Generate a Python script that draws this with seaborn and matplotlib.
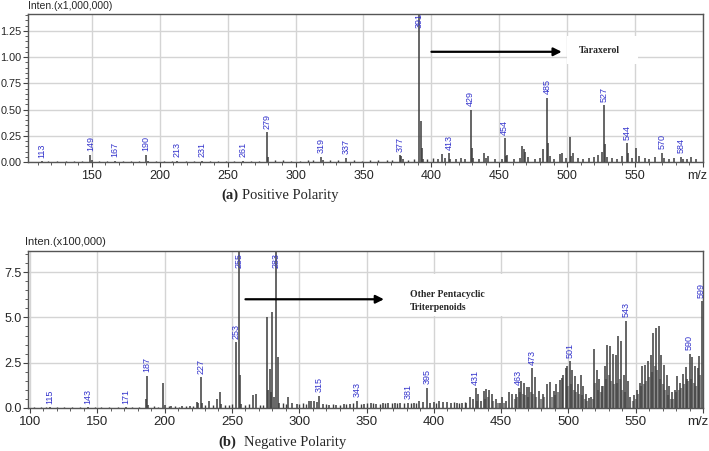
import matplotlib
matplotlib.use("Agg")
from matplotlib import pyplot as plt
from matplotlib.ticker import MultipleLocator, AutoMinorLocator, FuncFormatter
from matplotlib.patches import Rectangle
import seaborn as sns

sns.set_style("whitegrid")
plt.rcParams["font.family"] = ["Liberation Sans", "DejaVu Sans"]

# ---- positive polarity (x1,000,000) ----
pos_mz = [113, 149, 150, 167, 190, 191, 213, 231, 261, 279, 280, 319, 320, 337,
          377, 378, 379, 391, 392, 393, 394, 405, 408, 410, 413, 414, 418, 422,
          425, 429, 430, 431, 435, 439, 440, 442, 447, 452, 454, 455, 456, 461,
          465, 467, 468, 469, 471, 476, 480, 482, 485, 486, 487, 490, 495, 496,
          499, 502, 503, 504, 508, 512, 516, 520, 523, 526, 527, 528, 529, 533,
          537, 540, 544, 545, 548, 551, 553, 557, 560, 565, 570, 571, 575, 579,
          584, 585, 588, 591, 595]
pos_int = [0.008, 0.068, 0.015, 0.010, 0.068, 0.012, 0.010, 0.010, 0.012, 0.286,
           0.050, 0.050, 0.015, 0.040, 0.065, 0.060, 0.030, 1.450, 0.390, 0.130,
           0.030, 0.030, 0.076, 0.040, 0.085, 0.030, 0.025, 0.040, 0.030, 0.500,
           0.130, 0.040, 0.030, 0.090, 0.040, 0.060, 0.030, 0.030, 0.226, 0.060,
           0.070, 0.030, 0.040, 0.150, 0.120, 0.100, 0.050, 0.030, 0.040, 0.120,
           0.610, 0.180, 0.060, 0.030, 0.080, 0.090, 0.040, 0.240, 0.060, 0.090,
           0.040, 0.030, 0.040, 0.050, 0.070, 0.100, 0.540, 0.170, 0.050, 0.040,
           0.030, 0.060, 0.180, 0.090, 0.040, 0.130, 0.060, 0.040, 0.030, 0.050,
           0.090, 0.040, 0.030, 0.040, 0.050, 0.030, 0.030, 0.050, 0.030]
pos_noise_mz = [118, 124, 131, 137, 143, 155, 161, 173, 179, 185, 197, 203, 209,
                219, 225, 237, 243, 249, 255, 267, 273, 285, 291, 297, 303, 309,
                313, 325, 331, 343, 349, 355, 361, 367, 371, 383, 387, 397, 401]
pos_noise_int = [0.006, 0.008, 0.005, 0.007, 0.009, 0.010, 0.006, 0.008, 0.007,
                 0.011, 0.009, 0.006, 0.008, 0.010, 0.012, 0.009, 0.011, 0.008,
                 0.013, 0.012, 0.010, 0.015, 0.018, 0.012, 0.014, 0.016, 0.020,
                 0.015, 0.018, 0.017, 0.014, 0.016, 0.019, 0.015, 0.021, 0.020,
                 0.025, 0.030, 0.035]
pos_labels = [113, 149, 167, 190, 213, 231, 261, 279, 319, 337, 377, 391, 413,
              429, 454, 485, 527, 544, 570, 584]

# ---- negative polarity (x100,000) ----
neg_mz = [115, 143, 171, 186, 187, 188, 199, 200, 205, 213, 219, 224, 225, 227,
          228, 233, 239, 241, 242, 253, 255, 256, 257, 266, 268, 276, 277, 278,
          279, 280, 281, 283, 284, 285, 292, 295, 298, 307, 309, 311, 313, 315,
          318, 322, 327, 333, 338, 343, 348, 353, 357, 362, 366, 371, 375, 381,
          385, 389, 392, 395, 397, 400, 404, 407, 410, 413, 417, 421, 424, 427,
          429, 431, 433, 435, 437, 439, 441, 443, 446, 449, 451, 454, 456, 458,
          461, 463, 465, 467, 469, 471, 473, 475, 478, 481, 484, 486, 489, 491,
          494, 495, 496, 498, 499, 501, 503, 505, 507, 509, 511, 513, 515, 517,
          519, 521, 523, 525, 527, 529, 531, 533, 535, 537, 539, 541, 543, 544,
          546, 549, 551, 553, 555, 557, 559, 561, 563, 565, 567, 569, 571, 573,
          575, 577, 579, 581, 583, 585, 587, 588, 590, 592, 594, 596, 597, 599]
neg_int = [0.05, 0.05, 0.05, 0.50, 1.78, 0.15, 1.40, 0.15, 0.10, 0.12, 0.12, 0.35,
           0.30, 1.71, 0.30, 0.40, 0.50, 0.90, 0.20, 3.64, 9.00, 1.82, 0.20, 0.72,
           0.80, 5.04, 1.00, 2.13, 0.90, 5.31, 0.60, 9.00, 2.83, 0.30, 0.60, 0.30,
           0.20, 0.40, 0.40, 0.40, 0.35, 0.68, 0.20, 0.15, 0.15, 0.20, 0.20, 0.40,
           0.20, 0.30, 0.20, 0.25, 0.30, 0.30, 0.25, 0.30, 0.25, 0.40, 0.35, 1.12,
           0.30, 0.35, 0.40, 0.35, 0.35, 0.30, 0.25, 0.30, 0.30, 0.60, 0.50, 1.08,
           0.80, 0.40, 0.95, 1.05, 1.00, 0.75, 0.50, 0.30, 0.60, 0.40, 0.90, 0.75,
           0.80, 1.10, 1.50, 1.40, 1.15, 1.15, 2.19, 1.70, 0.95, 0.80, 1.30, 1.45,
           0.95, 1.30, 1.55, 1.66, 1.84, 2.20, 2.32, 2.59, 2.10, 1.76, 1.30, 1.84,
           1.20, 0.80, 0.55, 0.60, 3.25, 2.10, 1.60, 1.20, 2.30, 3.50, 3.40, 3.00,
           2.90, 4.00, 3.70, 1.80, 4.82, 1.50, 0.60, 0.70, 1.00, 1.40, 2.30, 2.35,
           2.60, 2.90, 4.15, 4.40, 4.50, 2.95, 2.35, 1.80, 1.20, 0.90, 1.00, 1.75,
           1.40, 1.90, 2.25, 1.60, 3.00, 2.80, 2.30, 2.20, 2.85, 5.90]
neg_minor_mz = [432, 438, 440, 444, 448, 452, 460, 462, 464, 466, 468, 470, 472,
                474, 476, 480, 482, 488, 490, 492, 500, 502, 504, 506, 508, 510,
                512, 514, 518, 520, 522, 524, 526, 528, 530, 532, 534, 536, 538,
                540, 542, 548, 550, 552, 554, 556, 558, 560, 562, 564, 566, 568,
                570, 572, 574, 576, 578, 580, 582, 584, 586, 589, 591, 593, 595,
                598]
neg_minor_int = [0.4, 0.5, 0.6, 0.4, 0.3, 0.3, 0.5, 0.6, 0.9, 0.8, 0.7, 0.6, 0.9,
                 0.8, 0.6, 0.5, 0.6, 0.6, 0.7, 0.9, 1.2, 1.3, 1.0, 0.9, 0.8, 0.7,
                 0.5, 0.4, 0.5, 1.4, 1.0, 0.9, 1.2, 1.6, 1.8, 1.5, 1.3, 1.4, 1.6,
                 1.0, 0.9, 0.4, 0.5, 0.8, 1.2, 1.3, 1.5, 1.7, 2.0, 2.3, 2.1, 1.6,
                 1.3, 1.0, 0.7, 0.5, 0.5, 0.9, 1.0, 1.1, 1.3, 1.5, 1.6, 1.4, 1.2,
                 1.8]
neg_noise_mz = [103, 108, 112, 120, 125, 131, 137, 148, 153, 159, 165, 176, 181,
                192, 195, 203, 208, 211, 216, 221, 230, 236, 245, 248, 250, 260,
                263, 271, 273, 288, 290, 300, 303, 305, 320, 325, 330, 335, 340,
                346, 350, 355, 360, 364, 369, 373, 378, 383, 387, 402, 415, 419, 423]
neg_noise_int = [0.03, 0.04, 0.03, 0.05, 0.04, 0.05, 0.04, 0.06, 0.05, 0.06, 0.05,
                 0.06, 0.07, 0.12, 0.08, 0.10, 0.09, 0.08, 0.10, 0.12, 0.15, 0.14,
                 0.15, 0.18, 0.20, 0.15, 0.20, 0.18, 0.15, 0.25, 0.20, 0.22, 0.25,
                 0.20, 0.20, 0.22, 0.18, 0.20, 0.25, 0.22, 0.30, 0.25, 0.22, 0.28,
                 0.25, 0.30, 0.28, 0.25, 0.30, 0.30, 0.32, 0.30, 0.35]
neg_labels = [115, 143, 171, 187, 227, 253, 255, 283, 315, 343, 381, 395, 431,
              463, 473, 501, 543, 590, 599]

LINE = "#3c3c3c"
MINOR = "#8c8c8c"
BLUE = "#3333cc"


def style_axes(ax, xlim, ylim, ymajor, yfmt, size, ysize):
    ax.set_xlim(*xlim)
    ax.set_ylim(*ylim)
    ax.xaxis.set_major_locator(MultipleLocator(50))
    ax.xaxis.set_minor_locator(MultipleLocator(10))
    ax.yaxis.set_major_locator(MultipleLocator(ymajor))
    ax.yaxis.set_minor_locator(AutoMinorLocator(5))
    ax.xaxis.set_major_formatter(FuncFormatter(lambda v, p: "" if v >= 600 else f"{v:.0f}"))
    ax.yaxis.set_major_formatter(FuncFormatter(lambda v, p: yfmt.format(v)))
    ax.grid(True, which="major", color="#d4d4d4", lw=1)
    ax.set_axisbelow(True)
    ax.tick_params(which="both", direction="out", color="#444444", bottom=True, left=True)
    ax.tick_params(axis="x", labelsize=size, pad=2)
    ax.tick_params(axis="y", labelsize=ysize, pad=1)
    ax.tick_params(which="major", length=3.5, width=0.8)
    ax.tick_params(which="minor", length=2.2, width=0.6)
    for s in ax.spines.values():
        s.set_color("#555555")
        s.set_linewidth(1)
    ax.annotate("m/z", xy=(1, 0), xycoords="axes fraction", xytext=(-4, -5.5),
                textcoords="offset points", ha="center", va="top", fontsize=size)


def peak_labels(ax, mz, inten, labels, cap):
    h = dict(zip(mz, inten))
    for m in labels:
        ax.annotate(str(m), xy=(m, min(h[m], cap)), xytext=(0, 2.5),
                    textcoords="offset points", rotation=90, ha="center", va="bottom",
                    fontsize=6.5, color=BLUE)


fig = plt.figure(figsize=(7.09, 4.51), dpi=100)

# top panel
ax1 = fig.add_axes([28 / 709, 1 - 162 / 451, 675 / 709, 148 / 451])
style_axes(ax1, (103, 600), (0, 1.41), 0.25, "{:.2f}", 9, 7.8)
ax1.vlines(pos_noise_mz, 0, pos_noise_int, color=LINE, lw=1)
ax1.vlines(pos_mz, 0, pos_int, color=LINE, lw=1.1)
peak_labels(ax1, pos_mz, pos_int, pos_labels, 1.24)
ax1.add_patch(Rectangle((500, 0.93), 52, 0.27, facecolor="white", edgecolor="none", zorder=0.8))
ax1.annotate("", xy=(498, 1.05), xytext=(398, 1.05),
             arrowprops=dict(arrowstyle="-|>", color="black", lw=1.6, mutation_scale=12))
ax1.text(524, 1.06, "Taraxerol", fontsize=7, fontweight="bold", ha="center", va="center",
         family="Liberation Serif")
fig.text(28 / 709, 1 - 9 / 451, "Inten.(x1,000,000)", fontsize=7.5, ha="left", va="baseline")

# bottom panel
ax2 = fig.add_axes([28 / 709, 1 - 408 / 451, 675 / 709, 157.3 / 451])
style_axes(ax2, (98.5, 600), (0, 8.68), 2.5, "{:.1f}", 9.5, 9)
ax2.vlines(neg_noise_mz, 0, neg_noise_int, color=LINE, lw=1)
ax2.vlines(neg_minor_mz, 0, neg_minor_int, color=MINOR, lw=1.6)
ax2.vlines(neg_mz, 0, neg_int, color=LINE, lw=1.1)
peak_labels(ax2, neg_mz, neg_int, neg_labels, 7.55)
ax2.add_patch(Rectangle((373, 5.08), 101, 2.32, facecolor="white", edgecolor="none", zorder=0.8))
ax2.annotate("", xy=(365, 6.0), xytext=(258, 6.0),
             arrowprops=dict(arrowstyle="-|>", color="black", lw=1.6, mutation_scale=12))
ax2.text(382, 5.9, "Other Pentacyclic\nTriterpenoids", fontsize=7, fontweight="bold",
         ha="left", va="center", linespacing=1.5, family="Liberation Serif")
fig.text(25 / 709, 1 - 245 / 451, "Inten.(x100,000)", fontsize=8, ha="left", va="baseline")

# captions
fig.text(221 / 709, 1 - 199 / 451, "(a)", fontsize=10.5, fontweight="bold",
         family="Liberation Serif", va="baseline")
fig.text(242 / 709, 1 - 199 / 451, "Positive Polarity", fontsize=10.5,
         family="Liberation Serif", va="baseline")
fig.text(218 / 709, 1 - 446 / 451, "(b)", fontsize=10.5, fontweight="bold",
         family="Liberation Serif", va="baseline")
fig.text(244 / 709, 1 - 446 / 451, "Negative Polarity", fontsize=10.5,
         family="Liberation Serif", va="baseline")

fig.savefig("out.png", dpi=100)
